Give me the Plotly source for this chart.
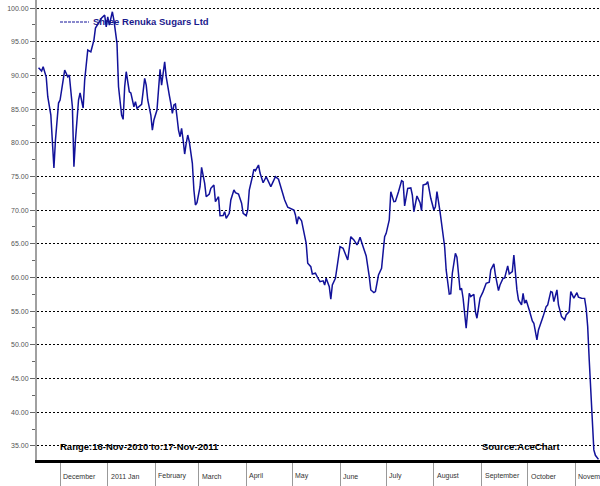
import pandas as pd
import plotly.graph_objects as go

# Day offsets from 16-Nov-2010 and closing prices
start_date = "2010-11-16"
day_offsets = [
    1, 3, 4, 6, 7, 9, 11, 12, 14, 15, 17, 18, 20, 21, 23, 24, 25, 27, 28, 30,
    31, 33, 35, 37, 38, 40, 42, 44, 45, 46, 47, 49, 50, 52, 53, 55, 56, 57, 58, 60,
    61, 63, 64, 65, 67, 68, 70, 71, 72, 74, 75, 76, 78, 79, 80, 81, 82, 83, 84, 85,
    86, 87, 88, 89, 90, 91, 92, 93, 94, 95, 96, 97, 98, 99, 101, 102, 103, 104, 106, 107,
    109, 110, 112, 113, 115, 116, 118, 119, 121, 122, 123, 125, 126, 128, 129, 131, 133, 134, 136, 137,
    138, 140, 141, 142, 144, 145, 147, 149, 151, 152, 153, 155, 157, 159, 161, 163, 165, 167, 168, 169,
    170, 172, 173, 175, 176, 178, 179, 181, 183, 184, 186, 187, 188, 190, 191, 192, 194, 195, 197, 199,
    202, 203, 204, 206, 208, 209, 210, 212, 213, 214, 216, 217, 219, 220, 222, 224, 226, 227, 229, 230,
    232, 233, 235, 237, 238, 239, 241, 243, 244, 245, 247, 249, 250, 251, 253, 254, 256, 258, 259, 260,
    262, 263, 265, 266, 268, 269, 270, 272, 273, 275, 276, 277, 279, 281, 282, 284, 285, 286, 288, 290,
    292, 294, 295, 297, 298, 300, 301, 303, 304, 306, 307, 309, 310, 312, 313, 315, 316, 317, 318, 320,
    322, 323, 325, 326, 328, 329, 331, 332, 334, 335, 336, 338, 339, 341, 343, 344, 346, 347, 348, 349,
    351, 352, 354, 356, 357, 358, 359, 360, 361, 362, 363, 365,
]
prices = [
    91.14, 90.65, 91.29, 89.76, 86.84, 84.12, 76.25, 80.41, 85.90, 86.35, 89.31, 90.80, 89.80, 90.06, 85.35, 76.45, 80.41, 86.35, 87.39, 85.16,
    89.31, 93.77, 93.51, 95.25, 97.03, 97.77, 98.52, 98.96, 97.22, 98.71, 97.48, 99.45, 98.22, 94.76, 88.32, 84.12, 83.48, 88.32, 90.55, 87.58,
    87.40, 85.35, 86.09, 85.11, 85.60, 85.70, 89.57, 88.57, 86.35, 84.12, 81.89, 83.38, 84.86, 87.34, 90.90, 88.57, 90.06, 92.03, 89.80, 88.08,
    87.09, 85.86, 84.37, 85.60, 85.75, 83.87, 81.89, 80.90, 82.15, 80.41, 78.33, 79.92, 81.15, 80.16, 76.95, 72.99, 70.76, 71.10, 73.48, 76.36,
    73.98, 71.99, 72.40, 73.24, 73.73, 71.25, 71.99, 69.18, 69.20, 69.77, 68.79, 69.53, 71.51, 72.99, 72.59, 72.40, 71.02, 69.53, 69.18, 70.02,
    72.99, 74.96, 76.06, 75.85, 76.70, 75.51, 74.07, 74.96, 73.98, 73.48, 73.98, 74.96, 74.58, 73.09, 71.51, 70.42, 70.27, 70.02, 69.28, 67.94,
    69.03, 68.43, 67.30, 65.08, 62.11, 61.61, 60.52, 60.63, 59.74, 59.38, 59.50, 58.89, 59.88, 58.64, 56.77, 58.89, 59.88, 61.61, 64.57, 64.34,
    62.60, 64.34, 66.06, 65.57, 64.83, 65.32, 65.97, 64.57, 63.68, 63.19, 60.12, 58.15, 57.75, 57.90, 60.37, 61.37, 66.06, 66.56, 68.54, 72.74,
    71.25, 71.30, 72.74, 74.37, 74.22, 70.62, 73.24, 73.30, 72.25, 69.77, 72.10, 71.10, 69.92, 73.73, 73.88, 74.22, 71.76, 70.02, 70.51, 72.74,
    69.77, 68.28, 64.57, 61.12, 57.55, 57.60, 60.63, 63.59, 63.00, 58.15, 58.40, 56.92, 52.46, 57.66, 57.15, 57.51, 54.93, 53.95, 56.92, 57.90,
    59.14, 59.29, 61.12, 62.01, 60.37, 58.05, 58.89, 59.88, 59.90, 61.71, 60.52, 60.86, 63.34, 58.15, 56.66, 55.92, 57.66, 56.17, 56.66, 55.18,
    53.55, 53.21, 50.73, 52.21, 53.80, 54.19, 55.67, 55.92, 57.90, 57.80, 56.41, 58.15, 55.92, 54.19, 53.70, 54.44, 54.93, 57.90, 57.41, 56.92,
    57.75, 57.07, 56.92, 56.90, 55.43, 52.70, 47.76, 43.31, 37.86, 34.40, 33.60, 33.00,
]
series_name = "Shree Renuka Sugars Ltd"
month_starts = ["2010-12-01", "2011-01-01", "2011-02-01", "2011-03-01", "2011-04-01", "2011-05-01",
                "2011-06-01", "2011-07-01", "2011-08-01", "2011-09-01", "2011-10-01", "2011-11-01"]
month_labels = ["December", "2011 Jan", "February", "March", "April", "May",
                "June", "July", "August", "September", "October", "November"]
y_ticks = [35, 40, 45, 50, 55, 60, 65, 70, 75, 80, 85, 90, 95, 100]
range_text = "Range:16-Nov-2010 to:17-Nov-2011"
source_text = "Source:AceChart"

dates = pd.Timestamp(start_date) + pd.to_timedelta(day_offsets, unit="D")

FONT = "Liberation Sans, Arial, sans-serif"
LINE_COLOR = "#12129a"

fig = go.Figure()
fig.add_trace(go.Scatter(
    x=dates, y=prices, mode="lines", name=series_name,
    line=dict(color=LINE_COLOR, width=1.5), showlegend=False,
))

fig.update_layout(
    width=600, height=486,
    margin=dict(l=37, r=0, t=0, b=26, autoexpand=False),
    paper_bgcolor="white", plot_bgcolor="white",
    xaxis=dict(
        type="date", range=["2010-11-16", "2011-11-17"],
        tickvals=month_starts, showticklabels=False,
        ticks="outside", ticklen=26, tickcolor="#999999", tickwidth=1,
        showgrid=False, zeroline=False, automargin=False,
        showline=True, linecolor="black", linewidth=3,
    ),
    yaxis=dict(
        range=[32.9, 101.2], tickvals=y_ticks, tickformat=".2f",
        ticks="outside", ticklen=5, tickcolor="#666666", tickwidth=1,
        tickfont=dict(family=FONT, size=7, color="#555555"),
        showgrid=True, gridcolor="black", gridwidth=1, griddash="2px,2px",
        minor=dict(dtick=2.5, tick0=32.5, ticks="outside", ticklen=3, tickcolor="#666666", showgrid=False),
        zeroline=False, showline=True, linecolor="#a0a0a0", linewidth=2, automargin=False,
    ),
)

# month labels left-aligned next to their tick marks
for d, lab in zip(month_starts, month_labels):
    fig.add_annotation(x=d, y=0, xref="x", yref="paper", text=lab, showarrow=False,
                       xanchor="left", yanchor="middle", xshift=1, yshift=-16,
                       font=dict(family=FONT, size=7, color="#333333"))

# legend
fig.add_shape(type="line", xref="paper", yref="paper",
              x0=23 / 563, x1=52 / 563, y0=1 - 22 / 460, y1=1 - 22 / 460,
              line=dict(color=LINE_COLOR, width=1, dash="3px,1px"))
fig.add_annotation(x=54 / 563, y=1 - 22 / 460, xref="paper", yref="paper", text="<b>" + series_name + "</b>",
                   showarrow=False, xanchor="left", yanchor="middle",
                   font=dict(family=FONT, size=9.5, color="#1a1a8c"))

fig.add_annotation(x=21 / 563, y=14 / 460, xref="paper", yref="paper", text="<b>" + range_text + "</b>",
                   showarrow=False, xanchor="left", yanchor="middle",
                   font=dict(family=FONT, size=9.5, color="black"))
fig.add_annotation(x=443 / 563, y=14 / 460, xref="paper", yref="paper", text="<b>" + source_text + "</b>",
                   showarrow=False, xanchor="left", yanchor="middle",
                   font=dict(family=FONT, size=9.5, color="black"))

fig.write_html("out.html", config={"displayModeBar": False},
               post_script="document.body.style.margin='0';document.body.style.overflow='hidden';")
